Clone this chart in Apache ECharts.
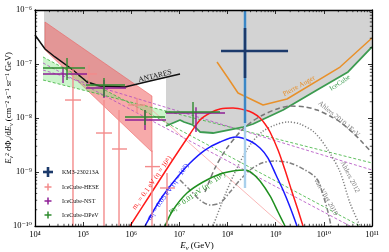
<!DOCTYPE html>
<html><head><meta charset="utf-8">
<script src="https://cdn.jsdelivr.net/npm/echarts@6.0.0/dist/echarts.min.js"></script>
<style>html,body{margin:0;padding:0;background:#fff}#c{width:389px;height:252px}</style>
</head><body><div id="c"></div>
<script>
// All values: [log10 E (GeV), log10 E^2 dPhi/dE (cm^-2 s^-1 sr^-1 GeV)]
const xTickExponents = [4,5,6,7,8,9,10,11];
const yTickExponents = [-10,-9,-8,-7,-6];

const grayRegion = [[4.187,-6.0],[11,-6.0],[11,-6.685],[10.502,-7.148],[9.858,-7.481],[9.152,-7.852],[8.528,-8.111],[8.321,-8.167],[7.698,-8.278],[7.427,-8.259],[7.282,-8.130],[7.095,-8.074],[7.012,-8.037],[6.721,-8.148],[6.721,-7.259],[6.389,-7.315],[5.870,-7.426],[5.350,-7.407],[5.080,-7.333],[4.789,-7.111],[4.415,-6.870],[4.208,-6.722],[4.187,-6.704]];
const antares = [[4.0,-6.463],[4.208,-6.722],[4.415,-6.870],[4.789,-7.111],[5.080,-7.333],[5.350,-7.407],[5.870,-7.426],[6.389,-7.315],[7.012,-7.185]];
const iceCubeLimit = [[6.721,-8.148],[7.012,-8.037],[7.095,-8.074],[7.282,-8.130],[7.427,-8.259],[7.698,-8.278],[8.321,-8.167],[8.528,-8.111],[9.152,-7.852],[9.858,-7.481],[10.502,-7.148],[11,-6.685]];
const augerLimit = [[7.781,-6.963],[8.009,-7.259],[8.217,-7.537],[8.736,-7.759],[9.235,-7.648],[10.336,-7.056],[11,-6.519]];

const heseBand = [[4.208,-6.222],[6.430,-7.593],[6.430,-8.630],[4.208,-6.741]];
const heseTail = [[6.430,-7.852],[9.152,-10.0]];
const dpevBandLeft = [[4.166,-6.870],[5.867,-7.679],[4.166,-7.296]];
const dpevBandRight = [[5.867,-7.679],[6.721,-7.871],[6.721,-8.085]];
const dpevLineA = [[4.166,-6.870],[10.751,-10.0]];
const dpevLineB = [[4.166,-7.296],[11,-8.833]];
const nstLineC = [[4.166,-7.111],[11,-8.963]];
const nstLineD = [[4.166,-6.981],[10.543,-10.0]];

const modelRed = [[5.973,-10.0],[6.389,-9.426],[6.804,-8.852],[7.220,-8.296],[7.427,-8.037],[7.635,-7.907],[7.843,-7.833],[8.113,-7.815],[8.362,-7.852],[8.528,-7.907],[8.674,-8.000],[8.778,-8.111],[8.882,-8.259],[9.048,-8.593],[9.193,-8.963],[9.339,-9.370],[9.463,-9.704],[9.567,-10.0]];
const modelBlue = [[6.285,-10.0],[6.597,-9.519],[6.908,-9.148],[7.220,-8.833],[7.531,-8.593],[7.843,-8.444],[8.175,-8.352],[8.466,-8.426],[8.674,-8.556],[8.840,-8.741],[9.006,-9.056],[9.152,-9.333],[9.297,-9.648],[9.442,-10.0]];
const modelGreen = [[6.700,-10.0],[6.867,-9.704],[7.157,-9.389],[7.490,-9.185],[7.843,-9.037],[8.113,-8.981],[8.362,-8.963],[8.508,-9.019],[8.674,-9.167],[8.882,-9.444],[9.048,-9.741],[9.193,-10.0]];

const ahlers2010 = [[7.531,-9.370],[7.739,-8.926],[7.988,-8.556],[8.258,-8.259],[8.466,-8.093],[8.736,-7.944],[9.027,-7.833],[9.297,-7.778],[9.609,-7.796],[9.858,-7.852],[10.128,-7.963],[10.336,-8.074],[10.585,-8.259],[10.793,-8.444],[11,-8.648]];
const ahlers2012 = [[7.698,-10.0],[7.947,-9.426],[8.196,-8.926],[8.466,-8.500],[8.715,-8.259],[8.985,-8.130],[9.256,-8.074],[9.505,-8.111],[9.817,-8.278],[10.086,-8.593],[10.336,-9.000],[10.543,-9.574],[10.751,-10.0]];
const vanVliet2019 = [[7.012,-9.148],[7.220,-9.333],[7.427,-9.519],[7.635,-9.611],[7.843,-9.574],[8.051,-9.370],[8.258,-9.148],[8.466,-8.963],[8.715,-8.833],[8.985,-8.796],[9.297,-8.833],[9.609,-8.963],[9.858,-9.130],[9.983,-9.426],[10.086,-9.741],[10.149,-10.0]];

// points: [logE, logF, logE_lo, logE_hi, logF_lo, logF_hi]
const km3Point = [8.362,-6.759,7.864,9.256,-7.259,-6.333];
const km3Sigma2 = [-8.093,-5.9];
const km3Sigma3 = [-9.296,-5.9];
const heseData = [
  [4.789,-7.667,4.623,4.956,-10.0,-6.981],
  [5.122,-7.185,4.956,5.288,-7.426,-7.019],
  [5.433,-8.278,5.267,5.600,-10.0,-7.667],
  [5.745,-8.574,5.600,5.911,-10.0,-7.852],
  [6.119,-7.759,5.932,6.285,-7.907,-7.630],
  [6.430,-8.900,6.285,6.597,-10.0,-8.600],
  [6.742,-9.296,6.597,6.908,-10.0,-9.019]
];
const nstData = [
  [4.582,-7.185,4.166,5.080,-7.352,-7.056],
  [5.433,-7.444,5.059,5.890,-7.630,-7.296],
  [6.285,-8.037,5.870,6.721,-8.222,-7.852],
  [7.344,-7.907,6.721,7.947,-8.259,-7.800]
];
const dpevData = [
  [4.665,-7.074,4.166,5.039,-7.296,-6.889],
  [5.433,-7.389,5.059,5.870,-7.611,-7.259],
  [6.285,-7.981,5.870,6.700,-8.130,-7.852],
  [7.282,-7.889,6.700,7.843,-8.111,-7.704]
];

const legendNames = ['KM3-230213A','IceCube-HESE','IceCube-NST','IceCube-DPeV'];

// ---------------------------------------------------------------
const P = v => Math.pow(10, v);
const toXY = arr => arr.map(p => [P(p[0]), P(p[1])]);
const SERIF = "'Liberation Serif','DejaVu Serif',serif";

function polySeries(pts, fill, stroke, z) {
  return {type:'custom', silent:true, z, clip:true, data:[[P(pts[0][0]),P(pts[0][1])]], encode:{x:0,y:1},
    renderItem(params, api){
      return {type:'polygon', shape:{points: pts.map(p => api.coord([P(p[0]),P(p[1])]))},
        style:{fill, stroke: stroke || null, lineWidth: stroke ? 0.6 : 0}};
    }};
}
function lineSeries(pts, color, width, type, z, smooth) {
  return {type:'line', silent:true, z, data: toXY(pts), showSymbol:false, symbol:'none', smooth: smooth || false,
    lineStyle:{color, width, type: type || 'solid', cap:'butt'}, clip:true};
}
function crossSeries(data, color, width, z) {
  return {type:'custom', silent:true, z, clip:true, data: data.map(d => d.map(P)), encode:{x:0,y:1},
    renderItem(params, api){
      const c = api.coord([api.value(0), api.value(1)]);
      const xl = api.coord([api.value(2), api.value(1)]);
      const xh = api.coord([api.value(3), api.value(1)]);
      const yl = api.coord([api.value(0), api.value(4)]);
      const yh = api.coord([api.value(0), api.value(5)]);
      return {type:'group', children:[
        {type:'line', shape:{x1:xl[0],y1:c[1],x2:xh[0],y2:c[1]}, style:{stroke:color,lineWidth:width}},
        {type:'line', shape:{x1:c[0],y1:yl[1],x2:c[0],y2:yh[1]}, style:{stroke:color,lineWidth:width}}
      ]};
    }};
}
const km3Series = {type:'custom', silent:true, z:9, clip:true, data:[km3Point.map(P)], encode:{x:0,y:1},
  renderItem(params, api){
    const c = api.coord([api.value(0), api.value(1)]);
    const xl = api.coord([api.value(2), api.value(1)]);
    const xh = api.coord([api.value(3), api.value(1)]);
    const yl = api.coord([api.value(0), api.value(4)]);
    const yh = api.coord([api.value(0), api.value(5)]);
    const s2l = api.coord([api.value(0), P(km3Sigma2[0])]), s2h = api.coord([api.value(0), P(km3Sigma2[1])]);
    const s3l = api.coord([api.value(0), P(km3Sigma3[0])]), s3h = api.coord([api.value(0), P(km3Sigma3[1])]);
    return {type:'group', children:[
      {type:'line', shape:{x1:c[0],y1:s3l[1],x2:c[0],y2:s3h[1]}, style:{stroke:'#a9d0ec',lineWidth:2.4}},
      {type:'line', shape:{x1:c[0],y1:s2l[1],x2:c[0],y2:s2h[1]}, style:{stroke:'#3b87c6',lineWidth:2.4}},
      {type:'line', shape:{x1:c[0],y1:yl[1],x2:c[0],y2:yh[1]}, style:{stroke:'#1c3a6b',lineWidth:2.6}},
      {type:'line', shape:{x1:xl[0],y1:c[1],x2:xh[0],y2:c[1]}, style:{stroke:'#1c3a6b',lineWidth:2.4}}
    ]};
  }};

// minor ticks (2..9 x 10^k) drawn on all four sides
const xMinor = [], yMinor = [];
for (let i = 0; i < xTickExponents.length - 1; i++) for (let m = 2; m <= 9; m++) xMinor.push(m * P(xTickExponents[i]));
for (let i = 0; i < yTickExponents.length - 1; i++) for (let m = 2; m <= 9; m++) yMinor.push(m * P(yTickExponents[i]));
const minorTicks = {type:'custom', silent:true, z:20, clip:false, data:[[P(6), P(-8)]], encode:{x:0,y:1},
  renderItem(params, api){
    const cs = params.coordSys; const ch = [];
    const st = {stroke:'#000', lineWidth:0.7};
    xMinor.forEach(v => { const p = api.coord([v, P(-8)]);
      ch.push({type:'line', shape:{x1:p[0],y1:cs.y+cs.height,x2:p[0],y2:cs.y+cs.height-2.2}, style:st});
      ch.push({type:'line', shape:{x1:p[0],y1:cs.y,x2:p[0],y2:cs.y+2.2}, style:st}); });
    yMinor.forEach(v => { const p = api.coord([P(6), v]);
      ch.push({type:'line', shape:{x1:cs.x,y1:p[1],x2:cs.x+2.2,y2:p[1]}, style:st});
      ch.push({type:'line', shape:{x1:cs.x+cs.width,y1:p[1],x2:cs.x+cs.width-2.2,y2:p[1]}, style:st}); });
    return {type:'group', children:ch};
  }};

const supMap = {'-':'⁻','0':'⁰','1':'¹','2':'²','3':'³','4':'⁴','5':'⁵','6':'⁶','7':'⁷','8':'⁸','9':'⁹'};
const expLabel = v => '10' + String(Math.round(Math.log10(v))).split('').map(c => supMap[c]).join('');

function axisCommon(show) {
  return {type:'log', logBase:10, z:15,
    axisLine:{show:true, lineStyle:{color:'#000', width:1.3}},
    axisTick:{show:true, inside:true, length:4, lineStyle:{color:'#000', width:0.8}},
    splitLine:{show:false}, minorTick:{show:false},
    axisLabel:{show, fontFamily:SERIF, fontSize:8.5, color:'#000', formatter: expLabel}};
}
const xB = Object.assign(axisCommon(true), {position:'bottom', min:P(4), max:P(11), splitNumber:7});
xB.axisLabel.margin = 4;
const xT = Object.assign(axisCommon(false), {position:'top', min:P(4), max:P(11), splitNumber:7});
const yL = Object.assign(axisCommon(true), {position:'left', min:P(-10), max:P(-6), splitNumber:4});
yL.axisLabel.margin = 3;
const yR = Object.assign(axisCommon(false), {position:'right', min:P(-10), max:P(-6), splitNumber:4});

function cross(x, y, h, color, w) {
  return [{type:'line', shape:{x1:x-h,y1:y,x2:x+h,y2:y}, style:{stroke:color,lineWidth:w}},
          {type:'line', shape:{x1:x,y1:y-h,x2:x,y2:y+h}, style:{stroke:color,lineWidth:w}}];
}
function rtext(x, y, deg, text, color, size) {
  return {type:'text', x, y, rotation: deg * Math.PI / 180, z:30,
    style:{text, fill:color, fontSize:size, fontFamily:SERIF, align:'center', verticalAlign:'middle', textAlign:'center', textVerticalAlign:'middle'}};
}
const legendColors = ['#1c3a6b','#f38b8b','#8e1e96','#2e8b2e'];
const legendY = [172, 187, 201, 215];
const graphics = [];
legendNames.forEach((n, i) => {
  graphics.push(...cross(48, legendY[i], i === 0 ? 5 : 3.5, legendColors[i], i === 0 ? 2.6 : 1.5));
  graphics.push({type:'text', x:62, y:legendY[i], z:30, style:{text:n, fill:'#111', fontSize:6, fontFamily:SERIF, align:'left', verticalAlign:'middle', textAlign:'left', textVerticalAlign:'middle'}});
});
graphics.push(rtext(155, 76, 14, 'ANTARES', '#111', 7.5));
graphics.push(rtext(299, 86, 29, 'Pierre Auger', '#e8902a', 7));
graphics.push(rtext(340, 83, 34, 'IceCube', '#3c9b50', 7));
graphics.push(rtext(339, 119, -40, 'Ahlers 2010 1EeV', '#7a7a7a', 7));
graphics.push(rtext(350, 177, -63, 'Ahlers 2012', '#7a7a7a', 7));
graphics.push(rtext(326, 197, -60, 'van Vliet 2019', '#7a7a7a', 7));
graphics.push(rtext(152, 183, 55, 'm₁ = 0.1 eV (η = 10⁸)', '#ff1a1a', 7.3));
graphics.push(rtext(168, 192, 55, 'm₁ = 0.05 eV (η = 10⁸)', '#1a1aff', 7.3));
graphics.push(rtext(197, 193, 35, 'm₁ = 0.01 eV (η = 10⁸)', '#1f8f1f', 7.3));
graphics.push({type:'text', x:9, y:108, rotation: Math.PI/2, z:30,
  style:{text:'{i|E}{sb|ν}{sp|2}{n| dΦ}{sb|ν}{n|/d}{i|E}{sb|ν}{n| (cm⁻² s⁻¹ sr⁻¹ GeV)}', align:'center', verticalAlign:'middle', textAlign:'center', textVerticalAlign:'middle',
    rich:{i:{fontFamily:SERIF, fontStyle:'italic', fontSize:8.5, fill:'#000', lineHeight:10},
          n:{fontFamily:SERIF, fontSize:8.5, fill:'#000', lineHeight:10},
          sb:{fontFamily:SERIF, fontStyle:'italic', fontSize:6, fill:'#000', lineHeight:10, verticalAlign:'bottom'},
          sp:{fontFamily:SERIF, fontSize:6, fill:'#000', lineHeight:10, verticalAlign:'top'}}}});
graphics.push({type:'text', x:197, y:246, z:30,
  style:{text:'{i|E}{sb|ν}{n| (GeV)}', align:'center', verticalAlign:'middle', textAlign:'center', textVerticalAlign:'middle',
    rich:{i:{fontFamily:SERIF, fontStyle:'italic', fontSize:9, fill:'#000', lineHeight:11},
          n:{fontFamily:SERIF, fontSize:9, fill:'#000', lineHeight:11},
          sb:{fontFamily:SERIF, fontStyle:'italic', fontSize:6.5, fill:'#000', lineHeight:11, verticalAlign:'bottom'}}}});

const option = {
  animation:false,
  backgroundColor:'#fff',
  grid:{left:35, right:17, top:10, bottom:26, containLabel:false},
  xAxis:[xB, xT],
  yAxis:[yL, yR],
  graphic: graphics,
  series:[
    polySeries(grayRegion, '#d3d3d3', null, 1),
    polySeries(heseBand, 'rgba(240,100,100,0.55)', 'rgba(235,90,90,0.9)', 2),
    polySeries(dpevBandLeft, 'rgba(120,230,120,0.38)', null, 2),
    polySeries(dpevBandRight, 'rgba(120,230,120,0.38)', null, 2),
    lineSeries(heseTail, '#f7a5a5', 0.8, 'solid', 3),
    lineSeries(dpevLineA, '#39b039', 0.8, [3,2], 3),
    lineSeries(dpevLineB, '#39b039', 0.8, [3,2], 3),
    lineSeries(nstLineC, '#b04ac0', 0.8, [3,2], 3),
    lineSeries(nstLineD, '#b04ac0', 0.8, [3,2], 3),
    lineSeries(antares, '#111', 1.5, 'solid', 4),
    lineSeries(iceCubeLimit, '#3c9b50', 1.8, 'solid', 4),
    lineSeries(augerLimit, '#e8902a', 1.5, 'solid', 4),
    lineSeries(ahlers2010, '#777', 1.5, [5,3], 4, 0.3),
    lineSeries(ahlers2012, '#808080', 1.5, [1.2,1.8], 4, 0.3),
    lineSeries(vanVliet2019, '#808080', 1.5, [5,2,1.5,2], 4, 0.3),
    lineSeries(modelRed, '#ff1a1a', 1.5, 'solid', 5, 0.3),
    lineSeries(modelBlue, '#1a1aff', 1.5, 'solid', 5, 0.3),
    lineSeries(modelGreen, '#1f8f1f', 1.5, 'solid', 5, 0.3),
    crossSeries(heseData, '#f38b8b', 1.4, 6),
    crossSeries(nstData, '#8e1e96', 1.4, 7),
    crossSeries(dpevData, '#2e8b2e', 1.4, 7),
    km3Series,
    minorTicks
  ]
};
echarts.init(document.getElementById('c'), null, {renderer:'canvas'}).setOption(option);
</script></body></html>
